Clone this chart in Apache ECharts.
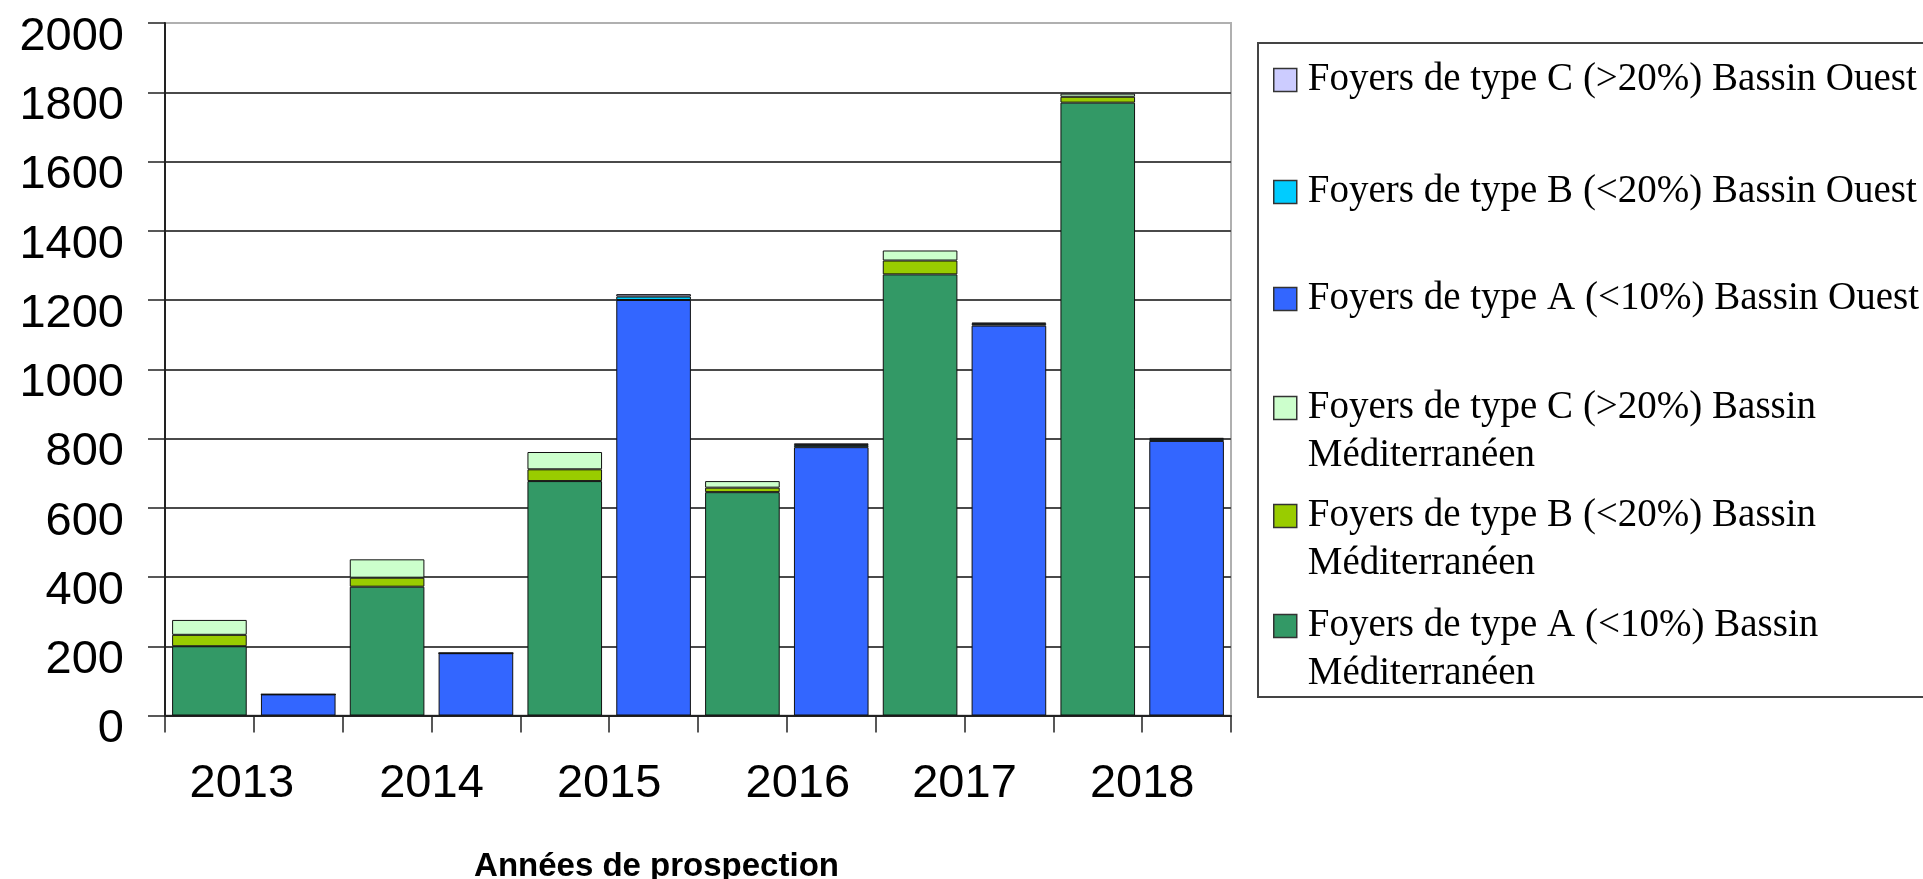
<!DOCTYPE html>
<html>
<head>
<meta charset="utf-8">
<title>Foyers par année de prospection</title>
<script src="https://cdn.jsdelivr.net/npm/echarts@6/dist/echarts.min.js"></script>
<style>
  html, body { margin: 0; padding: 0; background: #fff; }
  #main { width: 1923px; height: 879px; }
</style>
</head>
<body>
<div id="main"></div>
<script>
// years shown under the axis, two bars per year (Méditerranée, then Ouest)
const years = ['2013', '2014', '2015', '2016', '2017', '2018'];
const barSlots = [
  '2013 Méd', '2013 Ouest', '2014 Méd', '2014 Ouest', '2015 Méd', '2015 Ouest',
  '2016 Méd', '2016 Ouest', '2017 Méd', '2017 Ouest', '2018 Méd', '2018 Ouest',
];

// Bassin Méditerranéen (even slots)
const medTypeA = [200, '-', 372, '-', 677, '-', 645, '-', 1274, '-', 1770, '-'];
const medTypeB = [33, '-', 26, '-', 34, '-', 13, '-', 40, '-', 17, '-'];
const medTypeC = [43, '-', 53, '-', 50, '-', 19, '-', 29, '-', 9, '-'];
// Bassin Ouest (odd slots)
const ouestTypeA = ['-', 61, '-', 180, '-', 1200, '-', 775, '-', 1126, '-', 793];
const ouestTypeB = ['-', 0, '-', 0, '-', 10, '-', 6, '-', 5, '-', 5];
const ouestTypeC = ['-', 0, '-', 0, '-', 7, '-', 5, '-', 4, '-', 4];

const seriesNames = [
  'Foyers de type A (<10%) Bassin Méditerranéen',
  'Foyers de type B (<20%) Bassin Méditerranéen',
  'Foyers de type C (>20%) Bassin Méditerranéen',
  'Foyers de type A (<10%) Bassin Ouest',
  'Foyers de type B (<20%) Bassin Ouest',
  'Foyers de type C (>20%) Bassin Ouest',
];
const seriesData = [medTypeA, medTypeB, medTypeC, ouestTypeA, ouestTypeB, ouestTypeC];
const seriesColors = ['#339966', '#99cc00', '#ccffcc', '#3366ff', '#00ccff', '#ccccff'];

const chart = echarts.init(document.getElementById('main'));

// year labels in the original are not quite centred on their pair of bars
const yearPad = { 2013: [0, 24, 0, 0], 2016: [0, 0, 0, 22] };
const yearItems = years.map((y) => (yearPad[y] ? { value: y, textStyle: { padding: yearPad[y] } } : y));

// one legend per entry so each line can sit where the original box puts it
const legendTops = [56, 168, 275, 336, 444, 554];
const legends = [5, 4, 3, 2, 1, 0].map((si, k) => ({
  data: [seriesNames[si]],
  orient: 'vertical',
  left: 1273,
  top: legendTops[k],
  padding: 0,
  itemWidth: 23,
  itemHeight: 23,
  icon: 'rect',
  selectedMode: false,
  // leading empty line keeps the icon level with the first text line
  formatter: (n) => (n.indexOf('Méditerranéen') >= 0 ? '\n' + n.replace(' Méditerranéen', '\nMéditerranéen') : n),
  itemStyle: { borderColor: '#333', borderWidth: 1.5 },
  textStyle: {
    fontFamily: 'Liberation Serif',
    fontSize: 39,
    color: '#000',
    lineHeight: 48,
    padding: [0, 0, 0, 6],
  },
}));

const option = {
  backgroundColor: '#fff',
  animation: false,
  grid: {
    left: 165,
    right: 692,
    top: 23,
    bottom: 163.5,
    show: true,
    borderColor: '#b0b0b0',
    borderWidth: 2,
    outerBoundsMode: 'none',
  },
  legend: legends,
  xAxis: [
    {
      type: 'category',
      data: barSlots,
      position: 'bottom',
      axisLine: { lineStyle: { color: '#222', width: 2 } },
      axisTick: { show: true, interval: 0, length: 17, lineStyle: { color: '#222', width: 1.5 } },
      axisLabel: { show: false },
      splitLine: { show: false },
    },
    {
      type: 'category',
      data: yearItems,
      position: 'bottom',
      axisLine: { show: false },
      axisTick: { show: false },
      splitLine: { show: false },
      axisLabel: {
        interval: 0,
        fontFamily: 'Liberation Sans',
        fontSize: 47,
        color: '#000',
        margin: 45,
      },
      name: 'Années de prospection',
      nameLocation: 'middle',
      nameGap: 135,
      nameTextStyle: {
        fontFamily: 'Liberation Sans',
        fontWeight: 'bold',
        fontSize: 33,
        color: '#000',
        padding: [0, 83, 0, 0],
      },
    },
  ],
  yAxis: {
    type: 'value',
    min: 0,
    max: 2000,
    interval: 200,
    axisLine: { show: true, lineStyle: { color: '#222', width: 2 } },
    axisTick: { show: true, length: 17, lineStyle: { color: '#222', width: 1.5 } },
    axisLabel: {
      fontFamily: 'Liberation Sans',
      fontSize: 47,
      color: '#000',
      margin: 41,
      // labels in the original hang a little below their tick
      verticalAlign: 'top',
      lineHeight: 28,
      showMinLabel: true,
      showMaxLabel: true,
      hideOverlap: false,
      formatter: (v) => String(v),
    },
    splitLine: {
      show: true,
      showMaxLine: false,
      lineStyle: { color: '#4a4a4a', width: 2 },
    },
  },
  graphic: [
    {
      type: 'rect',
      z: 0,
      shape: { x: 1258, y: 43, width: 700, height: 654 },
      style: { fill: '#fff', stroke: '#444', lineWidth: 2 },
    },
  ],
  series: seriesNames.map((name, i) => ({
    name,
    type: 'bar',
    stack: 'foyers',
    data: seriesData[i],
    barCategoryGap: '16%',
    itemStyle: { color: seriesColors[i], borderColor: '#111', borderWidth: 1 },
    emphasis: { disabled: true },
  })),
};

chart.setOption(option);
</script>
</body>
</html>
